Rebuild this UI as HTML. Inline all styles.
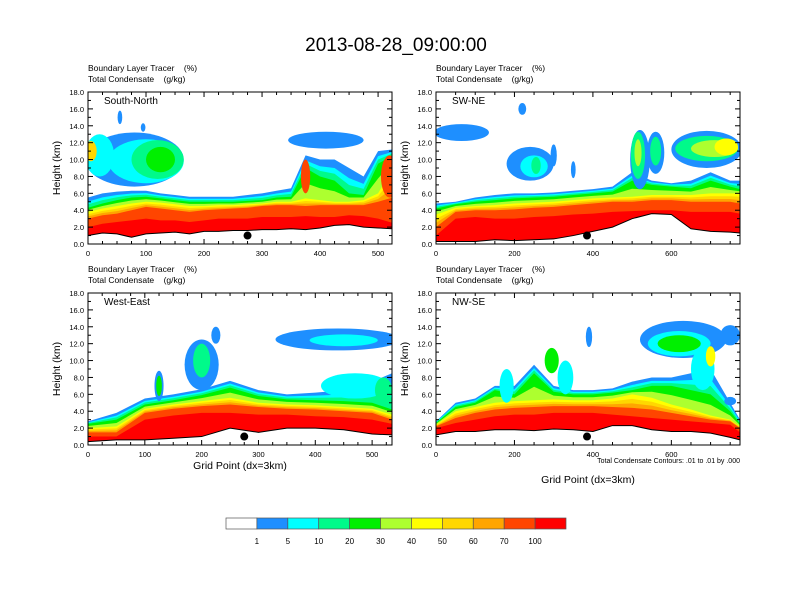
<!DOCTYPE html>
<html><head><meta charset="utf-8">
<style>
html,body{margin:0;padding:0;background:#fff;}
svg{display:block;font-family:"Liberation Sans",sans-serif;}
text{white-space:pre;}
</style></head>
<body>
<svg id="chart" width="792" height="612" viewBox="0 0 792 612">
<text x="396" y="51" text-anchor="middle" font-size="19">2013-08-28_09:00:00</text>
<g id="panels"></g>
<g id="cbar"></g>
</svg>
<script>
const levelColors = ["#1E8FFF","#00FFFF","#00FA8A","#00F000","#ADFF2F","#FFFF00","#FFD700","#FFA500","#FF4500","#FF0000"];
const cbarLabels = ["1","5","10","20","30","40","50","60","70","100"];
const panelNames = ["South-North","SW-NE","West-East","NW-SE"];
const panelMax = [524,775,535,775];
// P1
const xs1 = [0,25,50,75,100,125,150,175,200,225,250,275,300,325,350,375,400,425,450,475,500,525];
const ter1 = [1.0,1.3,1.2,0.8,1.2,1.3,1.4,1.2,1.5,1.5,1.6,1.6,1.7,1.7,1.8,1.7,1.9,2.2,2.3,2.0,1.9,1.8];
const a1 = [2.0,2.4,2.6,2.8,3.0,2.8,2.8,2.6,2.8,3.0,3.0,3.0,3.2,3.2,3.2,3.3,3.2,3.2,3.4,3.3,3.0,2.5];
const b1 = [3.0,3.4,3.6,4.0,4.4,4.2,4.0,3.8,4.0,4.1,4.2,4.3,4.5,4.6,4.6,4.5,4.6,4.6,4.6,4.6,5.0,5.5];
const c1 = [3.8,4.2,4.5,4.8,5.0,4.9,4.7,4.5,4.5,4.6,4.6,4.7,4.8,5.0,5.0,5.4,5.2,5.0,5.0,5.2,6.0,9.0];
const d1 = [4.3,4.8,5.2,5.5,5.6,5.4,5.2,5.0,5.0,5.0,5.0,5.1,5.2,5.5,5.6,9.0,8.0,7.5,6.0,5.8,9.5,10.5];
const e1 = [5.5,6.0,6.2,6.3,6.3,6.0,5.8,5.6,5.6,5.6,5.6,5.8,6.0,6.3,6.6,10.5,10.0,10.0,9.0,8.0,11.0,11.2];
const blobs1 = [[80,10,85,3.2,0],[100,9.8,65,2.6,1],[120,10,45,2.3,2],[125,10,25,1.5,3],[20,10.5,25,2.5,1],[5,11,10,1.2,6],[410,12.3,65,1.0,0],[55,15,4,0.8,0],[95,13.8,4,0.5,0],[375,8,8,2,8],[520,8,15,2.5,8]];
// P2
const xs2 = [0,50,100,150,200,250,300,350,400,450,500,550,600,650,700,750,775];
const ter2 = [0.3,0.3,0.3,0.5,0.4,0.5,0.6,1.0,1.5,2.0,3.0,3.6,3.5,1.8,1.5,1.4,1.3];
const a2 = [1.0,3.0,3.2,3.0,3.0,3.2,3.3,3.5,3.6,3.8,3.9,4.0,4.0,3.8,3.8,3.8,3.6];
const b2 = [2.0,3.8,4.0,4.0,4.1,4.3,4.4,4.6,4.8,5.0,5.0,5.2,5.2,5.0,5.0,5.0,4.8];
const c2 = [3.5,4.3,4.5,4.6,4.8,4.9,5.0,5.2,5.4,5.5,5.6,5.8,5.8,5.8,6.0,6.0,6.0];
const d2 = [4.2,4.7,5.0,5.2,5.4,5.5,5.6,5.8,6.0,6.2,7.5,7.0,6.8,6.6,7.5,6.8,6.5];
const e2 = [4.8,5.0,5.5,5.8,6.0,6.0,6.1,6.3,6.5,6.8,8.5,7.5,7.2,7.5,8.5,7.5,7.5];
const blobs2 = [[65,13.2,70,1.0,0],[240,9.5,60,2.0,0],[250,9.2,35,1.3,1],[255,9.3,12,1.0,2],[350,8.8,6,1.0,0],[300,10.5,8,1.3,0],[220,16,10,0.7,0],[520,10,25,3.5,0],[515,10.5,18,2.8,2],[515,10.8,9,1.6,4],[560,10.8,22,2.5,0],[560,11,14,1.7,2],[690,11.2,90,2.2,0],[690,11.3,80,1.5,2],[710,11.3,60,1.0,4],[740,11.5,30,1.0,5]];
// P3
const xs3 = [0,50,100,150,200,250,300,350,400,450,500,535];
const ter3 = [0.4,0.6,0.6,0.8,1.0,2.0,1.5,2.0,2.0,1.8,1.3,1.2];
const a3 = [1.0,1.0,3.0,3.5,3.8,3.8,3.6,3.6,3.4,3.3,3.0,2.5];
const b3 = [1.5,1.5,3.8,4.3,4.6,4.8,4.5,4.3,4.2,4.0,3.8,3.0];
const c3 = [2.0,2.2,4.3,4.8,5.2,5.6,5.0,4.8,4.7,4.5,4.3,3.6];
const d3 = [2.5,3.0,4.8,5.3,5.9,6.8,5.8,5.4,5.3,5.2,5.0,4.2];
const e3 = [2.8,3.8,5.5,6.0,6.6,7.6,6.5,6.0,6.2,6.5,7.5,8.5];
const blobs3 = [[125,7,8,1.8,0],[125,7,5,1.2,3],[200,9.5,30,3,0],[200,10,15,2,2],[225,13,8,1.0,0],[440,12.5,110,1.3,0],[450,12.4,60,0.7,1],[470,7,60,1.5,1],[520,6.5,15,1.5,2]];
// P4
const xs4 = [0,50,100,150,200,250,300,350,400,450,500,550,600,650,700,750,775];
const ter4 = [1.2,1.6,1.6,1.8,1.8,1.7,1.9,1.8,1.6,2.3,2.3,1.8,1.6,1.6,1.4,0.9,0.6];
const a4 = [2.0,2.6,3.0,3.4,3.6,3.6,3.8,3.8,3.8,3.6,3.4,3.2,3.0,2.8,2.6,2.4,1.5];
const b4 = [2.2,3.2,3.8,4.2,4.4,4.5,4.6,4.6,4.6,4.5,4.4,4.2,3.8,3.4,3.0,2.8,2.0];
const c4 = [2.4,4.0,4.5,5.0,5.2,5.3,5.4,5.3,5.3,5.5,6.0,5.6,4.8,4.2,3.5,3.0,2.2];
const d4 = [2.6,4.5,5.0,6.5,6.0,8.5,6.3,6.0,6.0,6.2,6.5,7.0,7.0,6.5,6.0,4.0,2.5];
const e4 = [2.8,5.0,5.5,7.0,7.0,9.5,7.0,6.5,6.5,6.7,7.5,8.0,8.0,8.5,9.0,5.0,3.0];
const blobs4 = [[295,10,18,1.5,3],[330,8,20,2,1],[180,7,18,2,1],[630,12.5,110,2.2,0],[620,12,80,1.5,1],[620,12,55,1.0,3],[680,9,30,2.5,1],[700,10.5,12,1.2,5],[750,13,25,1.2,0],[750,5.2,15,0.5,0],[390,12.8,8,1.2,0]];
const dotX = [275,385,275,385];

const panelData = [
 {xs:xs1,t:ter1,a:a1,b:b1,c:c1,d:d1,e:e1,bl:blobs1},
 {xs:xs2,t:ter2,a:a2,b:b2,c:c2,d:d2,e:e2,bl:blobs2},
 {xs:xs3,t:ter3,a:a3,b:b3,c:c3,d:d3,e:e3,bl:blobs3},
 {xs:xs4,t:ter4,a:a4,b:b4,c:c4,d:d4,e:e4,bl:blobs4}];
const boxes = [[88,92,304,152],[436,92,304,152],[88,293,304,152],[436,293,304,152]];
const NS="http://www.w3.org/2000/svg";
function mk(tag,attrs,parent){const el=document.createElementNS(NS,tag);for(const k in attrs)el.setAttribute(k,attrs[k]);parent.appendChild(el);return el;}
const root=document.getElementById('panels');
panelData.forEach((P,pi)=>{
  const [X0,Y0,W,H]=boxes[pi];
  const sx=v=>X0+v/panelMax[pi]*W;
  const sy=z=>Y0+H-z/18*H;
  const g=mk('g',{},root);
  
  
  const cp=mk('clipPath',{id:'cp'+pi},g);
  mk('rect',{x:X0,y:Y0,width:W,height:H},cp);
  const pg=mk('g',{'clip-path':'url(#cp'+pi+')'},g);
  const lv=i=>P.xs.map((_,k)=>{const a=P.a[k],b=P.b[k],c=P.c[k],d=P.d[k],e=P.e[k];
    return [e, d+(e-d)*0.6, d+(e-d)*0.33, d, c+(d-c)*0.5, c, b+(c-b)*0.66, b+(c-b)*0.33, b, a][i];});
  for(let i=0;i<10;i++){
    const top=lv(i);
    let pts=P.xs.map((x,k)=>sx(x)+','+sy(top[k]));
    for(let k=P.xs.length-1;k>=0;k--)pts.push(sx(P.xs[k])+','+sy(P.t[k]));
    const poly=mk('polygon',{points:pts.join(' '),fill:levelColors[i]},pg);
    
    
  }
  P.bl.forEach(b=>{
    const el=mk('ellipse',{cx:sx(b[0]),cy:sy(b[1]),rx:b[2]/panelMax[pi]*W,ry:b[3]/18*H,fill:levelColors[b[4]]},pg);
    
    
  });
  let tp=P.xs.map((x,k)=>sx(x)+','+sy(P.t[k]));
  const tl=mk('polyline',{points:tp.join(' '),fill:'none',stroke:'#000','stroke-width':1},pg);
  
  
  tp.push(sx(P.xs[P.xs.length-1])+','+(Y0+H),sx(0)+','+(Y0+H));
  const tw=mk('polygon',{points:tp.join(' '),fill:'#fff'},pg);
  
  
  pg.appendChild(tl);
  const dot=mk('circle',{cx:sx(dotX[pi]),cy:sy(1.0),r:4,fill:'#000'},pg);
  
  
  const fr=mk('rect',{x:X0,y:Y0,width:W,height:H,fill:'none',stroke:'#000','stroke-width':1},g);
  
  
  for(let z=0;z<=18;z+=1){
    const y=sy(z),L=z%2==0?5:3;
    mk('line',{x1:X0,x2:X0+L,y1:y,y2:y,stroke:'#000'},g);
    mk('line',{x1:X0+W,x2:X0+W-L,y1:y,y2:y,stroke:'#000'},g);
    if(z%2==0){const t=mk('text',{x:X0-4,y:y+3,'text-anchor':'end','font-size':7.5},g);t.textContent=z.toFixed(1);
      }
  }
  const step=panelMax[pi]>600?200:100;
  for(let v=0;v<=panelMax[pi];v+=step/4){
    const x=sx(v),maj=Math.abs(v%step)<1e-6,L=maj?5:3;
    mk('line',{x1:x,x2:x,y1:Y0+H,y2:Y0+H-L,stroke:'#000'},g);
    mk('line',{x1:x,x2:x,y1:Y0,y2:Y0+L,stroke:'#000'},g);
    if(maj){const t=mk('text',{x:x,y:Y0+H+12,'text-anchor':'middle','font-size':7.5},g);t.textContent=v;
      }
  }
  const yt=mk('text',{x:0,y:0,'text-anchor':'middle','font-size':10.5,transform:`translate(${X0-28},${Y0+H/2}) rotate(-90)`},g);
  yt.textContent='Height (km)';
  
  const s1=mk('text',{x:X0,y:Y0-21,'font-size':8.5},g);s1.textContent='Boundary Layer Tracer    (%)';
  
  const s2=mk('text',{x:X0,y:Y0-10,'font-size':8.5},g);s2.textContent='Total Condensate    (g/kg)';
  
  const pn=mk('text',{x:X0+16,y:Y0+12,'font-size':10},g);pn.textContent=panelNames[pi];
  
  if(pi>=2){const xt=mk('text',{x:X0+W/2,y:pi==2?Y0+H+24:Y0+H+38,'text-anchor':'middle','font-size':10.5},g);
    xt.textContent='Grid Point (dx=3km)';}
  if(pi==3){const n=mk('text',{x:X0+W,y:Y0+H+18,'text-anchor':'end','font-size':7},g);
    n.textContent='Total Condensate Contours: .01 to .01 by .000';}
});
const cb=document.getElementById('cbar');
const cbCols=["#FFFFFF"].concat(levelColors);
const bw=340/11;
cbCols.forEach((c,i)=>{
  const r=mk('rect',{x:226+i*bw,y:518,width:bw,height:11,fill:c,stroke:'#555','stroke-width':0.7},cb);
  
  
});
cbarLabels.forEach((l,i)=>{
  const t=mk('text',{x:226+(i+1)*bw,y:544,'text-anchor':'middle','font-size':8},cb);t.textContent=l;
  
  
});
</script>
</body></html>
